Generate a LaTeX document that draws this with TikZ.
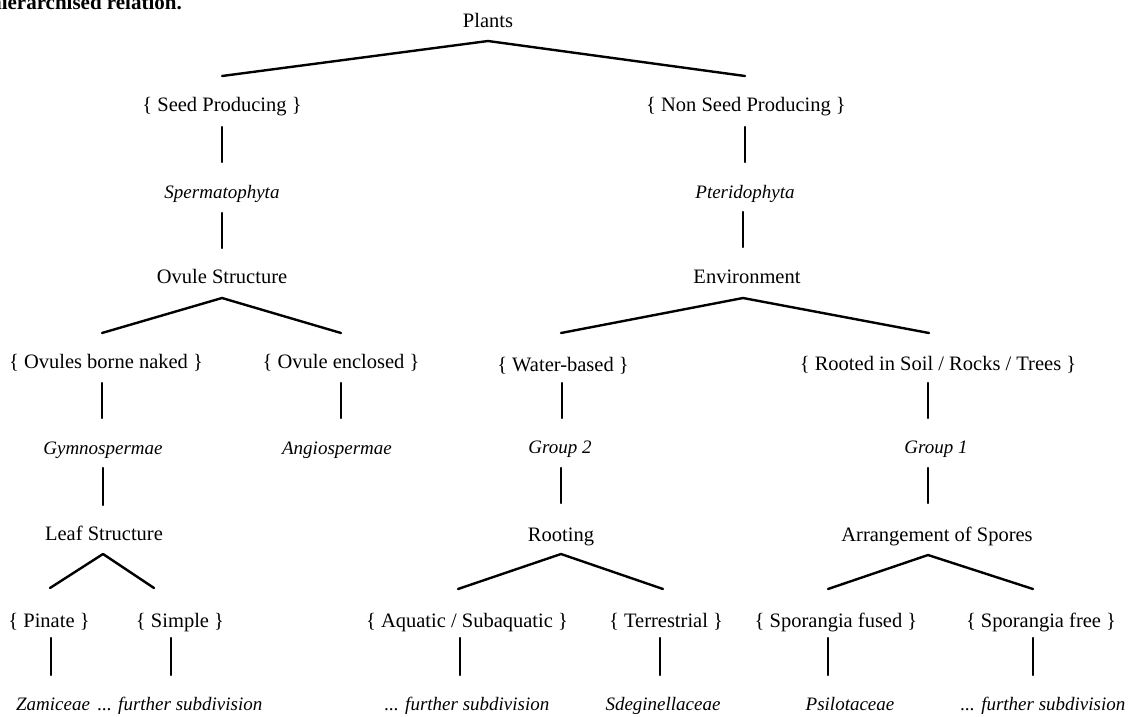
\documentclass[tikz,border=0pt]{standalone}
\usepackage{fontspec}
\setmainfont{Liberation Serif}
\begin{document}
\begin{tikzpicture}[x=1pt,y=-1pt,
  lbl/.style={inner sep=0pt,text height=14pt,text depth=3pt,font=\fontsize{20.5}{24}\selectfont},
  tax/.style={lbl,font=\fontsize{19}{22}\selectfont\itshape},
  conn/.style={line width=2.4pt,line cap=round,line join=round}]
\clip (0,0) rectangle (1129,716);
\fill[white] (0,0) rectangle (1129,716);
\node[anchor=base east,inner sep=0pt,font=\fontsize{21}{24}\selectfont\bfseries] (head) at (182,9) {hierarchised relation.};
% level texts
\node[lbl] (plants) at (488,22) {Plants};
\node[lbl] (seed) at (222,106) {\{ Seed Producing \}};
\node[lbl] (nonseed) at (746,106) {\{ Non Seed Producing \}};
\node[tax] (sperm) at (222,193) {Spermatophyta};
\node[tax] (pter) at (745,193) {Pteridophyta};
\node[lbl] (ovs) at (222,278) {Ovule Structure};
\node[lbl] (env) at (747,278) {Environment};
\node[lbl] (naked) at (106,363) {\{ Ovules borne naked \}};
\node[lbl] (encl) at (341,363) {\{ Ovule enclosed \}};
\node[lbl] (water) at (563,366) {\{ Water-based \}};
\node[lbl] (rooted) at (938,365) {\{ Rooted in Soil / Rocks / Trees \}};
\node[tax] (gymno) at (103,449) {Gymnospermae};
\node[tax] (angio) at (337,449) {Angiospermae};
\node[tax] (grp2) at (560,448) {Group 2};
\node[tax] (grp1) at (936,448) {Group 1};
\node[lbl] (leaf) at (104,535) {Leaf Structure};
\node[lbl] (rooting) at (561,536) {Rooting};
\node[lbl] (arr) at (937,536) {Arrangement of Spores};
\node[lbl] (pinate) at (49,622) {\{ Pinate \}};
\node[lbl] (simple) at (180,622) {\{ Simple \}};
\node[lbl] (aquatic) at (467,622) {\{ Aquatic / Subaquatic \}};
\node[lbl] (terr) at (666,622) {\{ Terrestrial \}};
\node[lbl] (spfused) at (836,622) {\{ Sporangia fused \}};
\node[lbl] (spfree) at (1041,622) {\{ Sporangia free \}};
\node[tax] (zam) at (53,705) {Zamiceae};
\node[tax] (fs1) at (180,705) {... further subdivision};
\node[tax] (fs2) at (467,705) {... further subdivision};
\node[tax] (sdeg) at (663,705) {Sdeginellaceae};
\node[tax] (psil) at (850,705) {Psilotaceae};
\node[tax] (fs3) at (1043,705) {... further subdivision};
% connector end points
\coordinate (plants-a) at (488,41);
\coordinate (seed-t) at (222,76);
\coordinate (nonseed-t) at (745,76);
\coordinate (seed-b) at (222,127);
\coordinate (sperm-t) at (222,162);
\coordinate (nonseed-b) at (745,127);
\coordinate (pter-t) at (745,162);
\coordinate (sperm-b) at (222,213);
\coordinate (ovs-t) at (222,248);
\coordinate (pter-b) at (743,212);
\coordinate (env-t) at (743,247);
\coordinate (ovs-a) at (222,298);
\coordinate (naked-t) at (102,333);
\coordinate (encl-t) at (341,333);
\coordinate (env-a) at (743,298);
\coordinate (water-t) at (561,333);
\coordinate (rooted-t) at (929,333);
\coordinate (naked-b) at (102,383);
\coordinate (gymno-t) at (102,418);
\coordinate (encl-b) at (341,383);
\coordinate (angio-t) at (341,418);
\coordinate (water-b) at (562,383);
\coordinate (grp2-t) at (562,418);
\coordinate (rooted-b) at (928,383);
\coordinate (grp1-t) at (928,418);
\coordinate (gymno-b) at (103,468);
\coordinate (leaf-t) at (103,505);
\coordinate (grp2-b) at (561,468);
\coordinate (rooting-t) at (561,503);
\coordinate (grp1-b) at (928,468);
\coordinate (arr-t) at (928,503);
\coordinate (leaf-a) at (103,554);
\coordinate (pinate-t) at (50,588);
\coordinate (simple-t) at (154,588);
\coordinate (rooting-a) at (561,554);
\coordinate (aquatic-t) at (458,589);
\coordinate (terr-t) at (663,589);
\coordinate (arr-a) at (928,555);
\coordinate (spfused-t) at (828,589);
\coordinate (spfree-t) at (1033,589);
\coordinate (pinate-b) at (51,638);
\coordinate (zam-t) at (51,675);
\coordinate (simple-b) at (171,638);
\coordinate (fs1-t) at (171,675);
\coordinate (aquatic-b) at (460,638);
\coordinate (fs2-t) at (460,675);
\coordinate (terr-b) at (660,638);
\coordinate (sdeg-t) at (660,675);
\coordinate (spfused-b) at (828,638);
\coordinate (psil-t) at (828,675);
\coordinate (spfree-b) at (1033,638);
\coordinate (fs3-t) at (1033,675);
% roofs
\draw[conn] (seed-t) -- (plants-a) -- (nonseed-t);
\draw[conn] (naked-t) -- (ovs-a) -- (encl-t);
\draw[conn] (water-t) -- (env-a) -- (rooted-t);
\draw[conn] (pinate-t) -- (leaf-a) -- (simple-t);
\draw[conn] (aquatic-t) -- (rooting-a) -- (terr-t);
\draw[conn] (spfused-t) -- (arr-a) -- (spfree-t);
% verticals
\foreach \a/\b in {seed-b/sperm-t, nonseed-b/pter-t, sperm-b/ovs-t, pter-b/env-t,
  naked-b/gymno-t, encl-b/angio-t, water-b/grp2-t, rooted-b/grp1-t,
  gymno-b/leaf-t, grp2-b/rooting-t, grp1-b/arr-t,
  pinate-b/zam-t, simple-b/fs1-t, aquatic-b/fs2-t, terr-b/sdeg-t,
  spfused-b/psil-t, spfree-b/fs3-t}
  \draw[conn] (\a) -- (\b);
\end{tikzpicture}
\end{document}
